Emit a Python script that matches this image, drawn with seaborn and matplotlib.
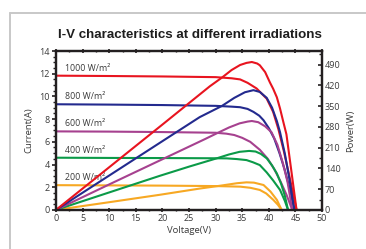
import numpy as np
import pandas as pd
import matplotlib
matplotlib.use("Agg")
import matplotlib.pyplot as plt
from matplotlib.lines import Line2D
from matplotlib.ticker import MultipleLocator
import seaborn as sns

# ---------------- data ----------------
irradiance_labels = ["1000 W/m²", "800 W/m²", "600 W/m²", "400 W/m²", "200 W/m²"]

# I-V curves
v_iv_1000 = [0, 10, 20, 30, 33, 34.6, 36, 37.7, 39.6, 40.8, 41.8, 42.8, 43.8, 45.2]
i_1000 = [11.83, 11.8, 11.76, 11.7, 11.6, 11.5, 11.2, 10.7, 9.8, 8.64, 7.1, 5.2, 3.1, 0]

v_iv_800 = [0, 10, 20, 30, 33, 34.6, 36, 37.1, 38.2, 39.0, 40.0, 41.0, 42.0, 43.0, 44.0, 44.8]
i_800 = [9.31, 9.28, 9.24, 9.17, 9.1, 9.05, 8.9, 8.64, 8.3, 7.9, 7.2, 6.3, 5.0, 3.5, 1.7, 0]

v_iv_600 = [0, 10, 20, 30, 32, 33.5, 35, 36.5, 38.3, 39.8, 41, 42.2, 43.3, 44.4]
i_600 = [6.92, 6.9, 6.86, 6.8, 6.72, 6.6, 6.35, 6.0, 5.3, 4.5, 3.6, 2.5, 1.35, 0]

v_iv_400 = [0, 10, 20, 30, 32.1, 34, 35.8, 37, 38.3, 39.6, 40.8, 42.1, 43.0, 43.6]
i_400 = [4.6, 4.58, 4.57, 4.55, 4.54, 4.48, 4.39, 4.2, 3.95, 3.3, 2.6, 1.76, 0.8, 0]

v_iv_200 = [0, 10, 20, 30, 34.6, 36.5, 38.3, 39.5, 40.8, 41.7, 42.4]
i_200 = [2.18, 2.16, 2.14, 2.1, 2.05, 1.95, 1.76, 1.45, 0.9, 0.45, 0]

# P-V curves
v_pv_1000 = [0, 10, 20, 28.9, 31.3, 33, 34.6, 35.8, 36.8, 37.8, 38.3, 39.3, 40.2,
             40.8, 41.5, 42.1, 42.7, 43.3, 44.2, 45.2]
p_1000 = [0, 144, 288, 417, 448, 472, 489, 496, 499, 494, 488, 465, 430,
          409, 380, 342, 298, 255, 135, 0]

v_pv_800 = [0, 10, 20, 27, 31.2, 33.5, 35.5, 37.1, 38.3, 39.6, 40.6, 41.5, 42.1,
            43.0, 43.9, 44.8]
p_800 = [0, 116, 232, 313, 351, 378, 397, 404, 398, 378, 345, 300, 262, 190, 100, 0]

v_pv_600 = [0, 10, 20, 28, 30.4, 32.5, 34.5, 36, 36.8, 38, 39.3, 40.5, 41.6,
            42.6, 43.5, 44.4]
p_600 = [0, 86, 171, 239, 260, 278, 292, 298, 300, 296, 282, 262, 220, 160, 95, 0]

v_pv_400 = [0, 10, 19.5, 25, 30.2, 32.5, 34.5, 36.3, 37.5, 38.5, 39.6, 40.6,
            41.5, 42.3, 43.0, 43.6]
p_400 = [0, 59, 115, 146, 174, 187, 196, 199, 197, 189, 174, 150, 123, 88, 48, 0]

v_pv_200 = [0, 10, 19.5, 27, 31, 34, 35.8, 37.2, 39, 40.3, 41.5, 42.4]
p_200 = [0, 26, 51, 72, 82, 90, 93, 92, 84, 62, 34, 0]

x_ticks = [0, 5, 10, 15, 20, 25, 30, 35, 40, 45, 50]
current_ticks = [0, 2, 4, 6, 8, 10, 12, 14]
power_ticks = [0, 70, 140, 210, 280, 350, 420, 490]

# ---------------- style ----------------
sns.set_style("ticks")
plt.rcParams["font.family"] = ["Open Sans", "DejaVu Sans"]

colors = {"1000 W/m²": "#e8141f", "800 W/m²": "#232a8e", "600 W/m²": "#a6418f",
          "400 W/m²": "#0b9a48", "200 W/m²": "#f7a823"}
text_col = "#3a3a3a"
spine_col = "#231f20"

iv_sets = [(v_iv_1000, i_1000), (v_iv_800, i_800), (v_iv_600, i_600),
           (v_iv_400, i_400), (v_iv_200, i_200)]
pv_sets = [(v_pv_1000, p_1000), (v_pv_800, p_800), (v_pv_600, p_600),
           (v_pv_400, p_400), (v_pv_200, p_200)]

iv_df = pd.concat([pd.DataFrame({"V": v, "I": i, "G": g})
                   for (v, i), g in zip(iv_sets, irradiance_labels)])
pv_df = pd.concat([pd.DataFrame({"V": v, "P": p, "G": g})
                   for (v, p), g in zip(pv_sets, irradiance_labels)])

fig = plt.figure(figsize=(3.66, 2.49), dpi=100)
ax = fig.add_axes([0.153, 0.157, 0.727, 0.638])
ax2 = ax.twinx()

for g in irradiance_labels[::-1]:
    sub = iv_df[iv_df.G == g]
    sns.lineplot(data=sub, x="V", y="I", ax=ax, color=colors[g], linewidth=1.5,
                 estimator=None, sort=False, legend=False)
    subp = pv_df[pv_df.G == g]
    sns.lineplot(data=subp, x="V", y="P", ax=ax2, color=colors[g], linewidth=1.5,
                 estimator=None, sort=False, legend=False)

ax.set_xlim(0, 50)
ax.set_ylim(0, 14)
ax2.set_ylim(0, 536)

ax.set_xticks(x_ticks)
ax.set_yticks(current_ticks)
ax2.set_yticks(power_ticks)
ax.yaxis.set_minor_locator(MultipleLocator(0.5))
ax.xaxis.set_minor_locator(MultipleLocator(2.5))
ax2.yaxis.set_minor_locator(MultipleLocator(35))

ax.tick_params(axis="both", which="major", labelsize=6.5, colors=spine_col,
               labelcolor=text_col, width=1.2, length=3, pad=1.5)
ax.tick_params(axis="both", which="minor", colors=spine_col, width=1.0, length=2)
ax.tick_params(axis="x", which="both", top=True, direction="inout")
ax.tick_params(axis="y", which="both", direction="out")
ax2.tick_params(axis="y", which="major", labelsize=6.5, colors=spine_col,
                labelcolor=text_col, width=1.2, length=3, pad=2, direction="in")
ax2.tick_params(axis="y", which="minor", colors=spine_col, width=1.0, length=2,
                direction="in")

for a in (ax, ax2):
    for s in a.spines.values():
        s.set_color(spine_col)
        s.set_linewidth(1.6)
        s.set_visible(True)

ax.set_xlabel("Voltage(V)", fontsize=6.8, color=text_col, labelpad=2)
ax.set_ylabel("Current(A)", fontsize=6.8, color=text_col, labelpad=4)
ax2.set_ylabel("Power(W)", fontsize=6.8, color=text_col, labelpad=4, rotation=90)

label_y = [12.1, 9.6, 7.2, 4.85, 2.45]
for g, y in zip(irradiance_labels, label_y):
    ax.text(1.7, y, g, fontsize=6.3, color=text_col, ha="left", va="bottom", zorder=1)

fig.text(0.518, 0.858, "I-V characteristics at different irradiations",
         ha="center", va="center", fontsize=9.6, fontweight="bold",
         family=["Liberation Sans", "DejaVu Sans"], color="#1e1e1e")

# outer frame (light grey) like the reference
fig.add_artist(Line2D([10 / 366, 10 / 366], [0, 1 - 13 / 249], color="#c8c8c8",
                      linewidth=1.4, transform=fig.transFigure))
fig.add_artist(Line2D([10 / 366, 1], [1 - 13 / 249, 1 - 13 / 249], color="#c8c8c8",
                      linewidth=1.4, transform=fig.transFigure))

fig.savefig("out.png", dpi=100)
